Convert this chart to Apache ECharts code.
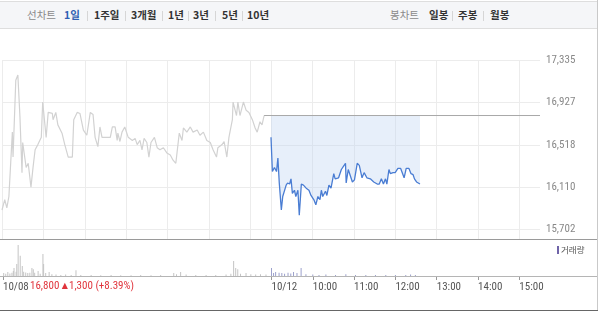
<!DOCTYPE html>
<html><head><meta charset="utf-8">
<script src="https://cdn.jsdelivr.net/npm/echarts@6/dist/echarts.min.js"></script>
<style>
html,body{margin:0;padding:0;background:#fff;}
#wrap{position:relative;width:600px;height:312px;overflow:hidden;font-family:'Noto Sans CJK KR',sans-serif;}
#chart{position:absolute;left:0;top:0;width:600px;height:312px;}
#toolbar{position:absolute;left:0;top:1px;width:597px;height:28px;background:#f5f6f8;border-top:1px solid #dedede;border-bottom:1px solid #dedede;box-sizing:border-box;}
#toolbar span{position:absolute;top:6px;font-size:10.5px;line-height:14px;white-space:nowrap;}
#toolbar .lbl{color:#8a8a8a;}
#toolbar .it{color:#333;font-weight:bold;}
#toolbar .on{color:#2f5fb3;font-weight:bold;}
#toolbar i{position:absolute;top:9px;width:1px;height:10px;background:#d6d6d6;}
.hl{position:absolute;height:1px;}
#frameR{position:absolute;left:597px;top:0;width:1px;height:310px;background:#c9c9c9;}
#legend{position:absolute;left:557px;top:243px;font-size:8.5px;color:#555;line-height:12px;}
#legend b{display:inline-block;width:2px;height:8px;background:#6f64a8;margin-right:2px;vertical-align:-1px;}
</style></head>
<body><div id="wrap">
<div id="chart"></div>
<div id="toolbar">
<span class="lbl" style="left:27px">선차트</span>
<span class="on" style="left:64px">1일</span><i style="left:87px"></i>
<span class="it" style="left:94px">1주일</span><i style="left:125px"></i>
<span class="it" style="left:131px">3개월</span><i style="left:162px"></i>
<span class="it" style="left:168px">1년</span><i style="left:188px"></i>
<span class="it" style="left:193px">3년</span><i style="left:215px"></i>
<span class="it" style="left:222px">5년</span><i style="left:242px"></i>
<span class="it" style="left:247px">10년</span>
<span class="lbl" style="left:390px">봉차트</span>
<span class="it" style="left:429px">일봉</span><i style="left:452px"></i>
<span class="it" style="left:458px">주봉</span><i style="left:483px"></i>
<span class="it" style="left:490px">월봉</span>
</div>
<div class="hl" style="left:0;top:239px;width:597px;background:#9a9a9a"></div>
<div class="hl" style="left:0;top:276px;width:597px;background:#b5b5b5"></div>
<div class="hl" style="left:0;top:310px;width:598px;background:#666"></div>
<div id="frameR"></div>
<div id="legend"><b></b>거래량</div>
</div>
<script>
const day1Date = '10/08';
const day2Date = '10/12';
const prevClose = 16800;
const change = 1300;
const changePct = 8.39;
const yTicks = [15702, 16110, 16518, 16927, 17335];

const day1Time = ['09:00','09:04','09:07','09:10','09:15','09:16','09:20','09:23','09:26','09:29','09:30','09:35','09:38','09:42','09:45','09:48','09:52','09:57','09:59','10:04','10:07','10:13','10:14','10:18','10:21','10:27','10:31','10:36','10:42','10:44','10:49','10:53','10:58','11:03','11:08','11:12','11:15','11:19','11:22','11:25','11:37','11:40','11:44','11:47','11:48','11:51','11:54','11:58','12:03','12:09','12:13','12:16','12:20','12:23','12:26','12:30','12:33','12:36','12:41','12:45','12:49','12:54','12:59','13:04','13:08','13:12','13:17','13:21','13:23','13:28','13:33','13:37','13:43','13:47','13:52','13:57','14:02','14:06','14:11','14:13','14:19','14:22','14:26','14:29','14:34','14:35','14:40','14:42','14:45','14:50','14:54','14:58','15:03','15:07','15:10','15:14','15:17','15:20'];
const day1Price = [15890,15990,15910,16020,16640,16400,17140,17190,16790,16250,16540,16300,16340,16110,16300,16470,16520,16590,16930,16590,16830,16820,16760,16830,16710,16630,16520,16400,16400,16760,16830,16820,16660,16610,16830,16810,16590,16500,16690,16590,16590,16690,16690,16560,16630,16550,16640,16690,16590,16560,16580,16520,16560,16470,16580,16540,16400,16540,16590,16490,16470,16490,16440,16420,16370,16340,16630,16560,16680,16640,16690,16640,16660,16610,16640,16560,16540,16470,16400,16490,16520,16550,16400,16590,16760,16930,16800,16930,16800,16930,16850,16830,16760,16680,16640,16740,16710,16800];

const day2Time = ['09:00','09:02','09:05','09:08','09:10','09:12','09:15','09:17','09:19','09:22','09:24','09:27','09:29','09:31','09:34','09:36','09:39','09:41','09:44','09:47','09:51','09:55','09:58','10:02','10:05','10:08','10:11','10:13','10:15','10:19','10:21','10:24','10:27','10:31','10:33','10:38','10:42','10:45','10:48','10:49','10:52','10:54','10:58','11:01','11:05','11:08','11:12','11:15','11:19','11:24','11:29','11:34','11:37','11:40','11:43','11:46','11:48','11:51','11:53','11:57','12:00','12:04','12:08','12:10','12:13','12:16','12:20','12:23','12:26','12:28','12:31','12:36'];
const day2Price = [16590,16260,16300,16260,16390,16150,15890,16020,16030,16130,16150,16140,16190,16050,16080,16020,16080,15840,16140,16130,16100,16080,16030,15990,15940,16020,15990,16080,16020,16070,16030,16130,16100,16240,16190,16200,16280,16310,16340,16150,16280,16290,16160,16180,16340,16320,16200,16250,16200,16190,16160,16140,16140,16190,16140,16190,16140,16280,16240,16250,16250,16290,16290,16290,16200,16290,16290,16240,16230,16190,16160,16140];

const day1VolTime = ['09:01','09:04','09:07','09:10','09:13','09:15','09:16','09:19','09:20','09:22','09:25','09:28','09:30','09:33','09:36','09:39','09:42','09:44','09:46','09:51','09:54','09:58','09:59','10:02','10:07','10:11','10:17','10:24','10:31','10:39','10:46','10:53','11:08','11:22','11:37','11:51','12:06','12:20','12:35','12:49','13:08','13:12','13:18','13:26','13:40','13:55','14:09','14:24','14:31','14:35','14:38','14:41','14:45','14:53','15:00','15:07','15:14','15:22'];
const day1Vol = [8,6,11,7,9,14,22,12,33,86,56,28,12,10,8,9,22,19,9,14,6,61,33,8,11,5,4,3,4,3,16,3,3,2,3,2,2,3,2,3,8,5,11,4,3,3,3,4,6,42,22,19,6,8,5,4,5,4];
const day2VolTime = ['09:00','09:03','09:06','09:11','09:15','09:19','09:24','09:28','09:32','09:37','09:43','09:50','10:00','10:09','10:19','10:33','10:48','11:02','11:17','11:31','11:46','12:00','12:15','12:22','12:29'];
const day2Vol = [22,8,11,9,8,6,9,7,11,8,22,5,4,3,4,3,5,3,3,3,3,3,3,4,3];

const hourLabels = ['10:00','11:00','12:00','13:00','14:00','15:00'];

function hm(m){const h=9+Math.floor(m/60),mm=m%60;return String(h).padStart(2,'0')+':'+String(mm).padStart(2,'0');}
const cats=[];
for(let m=0;m<390;m++) cats.push(day1Date+' '+hm(m));
for(let m=0;m<=390;m++) cats.push(day2Date+' '+hm(m));
const idx={}; cats.forEach((c,i)=>idx[c]=i);
function fill(date,times,vals){const a=new Array(cats.length).fill(null);times.forEach((t,k)=>{a[idx[date+' '+t]]=vals[k];});return a;}
const refLine=new Array(cats.length).fill(null);
refLine[idx[day1Date+' '+day1Time[day1Time.length-1]]]=prevClose;
refLine[cats.length-1]=prevClose;

const isHour=(i)=>cats[i].endsWith(':00');
const isLabel=(i)=>{const c=cats[i];const [d,t]=c.split(' ');return t==='09:00'||(d===day2Date&&hourLabels.includes(t));};

const numFont="'Liberation Sans Narrow','Arial Narrow','Roboto Condensed','Noto Sans CJK KR',sans-serif";
const chart=echarts.init(document.getElementById('chart'),null,{renderer:'canvas'});
const yMin=yTicks[0],yMax=yTicks[yTicks.length-1];
const hidden={show:false};
const fmt=(n)=>n.toLocaleString('en-US');
chart.setOption({
  animation:false,
  grid:[
    {left:2,right:60,top:60,height:169.5},
    {left:2,right:60,top:60,bottom:73},
    {left:2,right:60,top:240,bottom:36}
  ],
  xAxis:[
    {gridIndex:0,type:'category',data:cats,boundaryGap:false,axisLine:hidden,axisTick:hidden,axisLabel:hidden,splitLine:hidden},
    {gridIndex:1,type:'category',data:cats,boundaryGap:false,axisLine:hidden,axisTick:hidden,axisLabel:hidden,
      splitLine:{show:true,interval:(i)=>isHour(i),lineStyle:{color:'#ececec',width:1}}},
    {gridIndex:2,type:'category',data:cats,boundaryGap:false,axisLine:hidden,
      axisTick:{show:true,interval:(i)=>isLabel(i),length:4,lineStyle:{color:'#999'}},
      axisLabel:{show:true,interval:(i)=>isLabel(i),align:'left',margin:6,color:'#555',fontSize:11,fontFamily:numFont,
        formatter:(v)=>{const [d,t]=v.split(' ');return t==='09:00'?d:t;}},
      splitLine:hidden}
  ],
  yAxis:[
    {gridIndex:0,type:'value',position:'right',min:yMin,max:yMax,interval:(yMax-yMin)/(yTicks.length-1),
      axisLine:hidden,axisTick:hidden,
      axisLabel:{margin:6,color:'#888',fontSize:11,fontFamily:numFont,
        formatter:(v)=>{let best=yTicks[0];yTicks.forEach(t=>{if(Math.abs(t-v)<Math.abs(best-v))best=t;});return fmt(best);}},
      splitLine:{show:true,lineStyle:{color:'#ececec'}}},
    {gridIndex:1,type:'value',show:false},
    {gridIndex:2,type:'value',min:0,max:100,show:false}
  ],
  graphic:[
    {type:'text',left:30,top:281,style:{
      text:'{a|'+fmt(prevClose)+' }{t|▲}{a|'+fmt(change)+' (+'+changePct.toFixed(2)+'%)}',
      rich:{a:{fill:'#e0343c',fontSize:11,fontFamily:numFont},t:{fill:'#e0343c',fontSize:8,fontFamily:'DejaVu Sans',padding:[0,1,1,0]}}}}
  ],
  series:[
    {type:'line',xAxisIndex:0,yAxisIndex:0,data:fill(day1Date,day1Time,day1Price),connectNulls:true,showSymbol:false,
      lineStyle:{color:'#d2d2d2',width:1.2},z:3},
    {type:'line',xAxisIndex:0,yAxisIndex:0,data:fill(day2Date,day2Time,day2Price),connectNulls:true,showSymbol:false,
      lineStyle:{color:'#4a7dd3',width:1.3},areaStyle:{color:'rgba(188,210,242,0.5)',origin:prevClose},z:3},
    {type:'line',xAxisIndex:0,yAxisIndex:0,data:refLine,connectNulls:true,showSymbol:false,
      lineStyle:{color:'#a8a8a8',width:1},z:4},
    {type:'bar',xAxisIndex:2,yAxisIndex:2,data:fill(day1Date,day1VolTime,day1Vol),barWidth:1,itemStyle:{color:'#c4c4c4'}},
    {type:'bar',xAxisIndex:2,yAxisIndex:2,data:fill(day2Date,day2VolTime,day2Vol),barWidth:1,barGap:'-100%',itemStyle:{color:'#9ca1cc'}}
  ]
});
</script>
</body></html>
